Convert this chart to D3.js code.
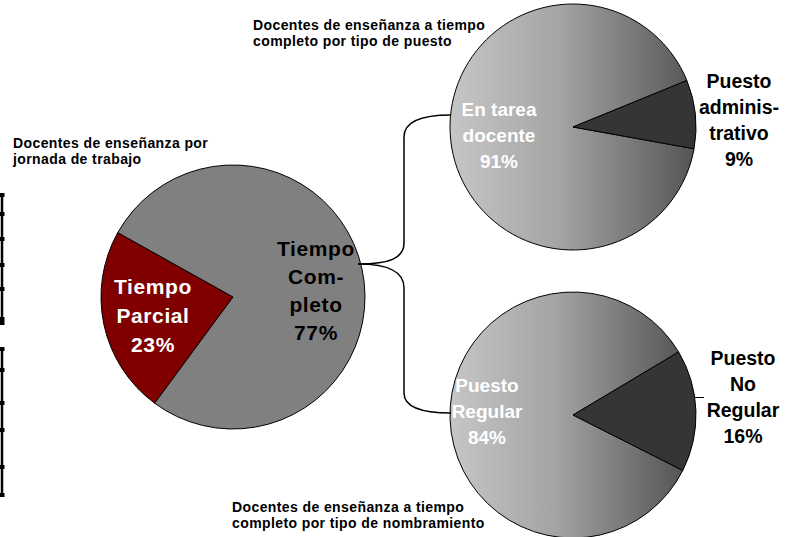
<!DOCTYPE html>
<html><head><meta charset="utf-8">
<script src="https://cdn.jsdelivr.net/npm/d3@7"></script>
<style>
body{margin:0;background:#fff;}
svg{display:block;font-family:Arial,"Liberation Sans",sans-serif;}
</style></head>
<body>
<svg id="c" width="797" height="537"></svg>
<script>
// ---- data ----
const jornadaCats = ["Tiempo Parcial", "Tiempo Completo"];
const jornadaVals = [23, 77];
const puestoCats = ["En tarea docente", "Puesto administrativo"];
const puestoVals = [91, 9];
const nombrCats = ["Puesto Regular", "Puesto No Regular"];
const nombrVals = [84, 16];

const jornadaLabels = [["Tiempo", "Parcial", "23%"], ["Tiempo", "Com-", "pleto", "77%"]];
const puestoLabels = [["En tarea", "docente", "91%"], ["Puesto", "adminis-", "trativo", "9%"]];
const nombrLabels = [["Puesto", "Regular", "84%"], ["Puesto", "No", "Regular", "16%"]];

const titles = [
  ["Docentes de enseñanza por", "jornada de trabajo"],
  ["Docentes de enseñanza a tiempo", "completo por tipo de puesto"],
  ["Docentes de enseñanza a tiempo", "completo por tipo de nombramiento"]
];

const svg = d3.select("#c");
const deg = Math.PI / 180;

// gradient for the detail pies
const defs = svg.append("defs");
function grad(id) {
  const g = defs.append("linearGradient").attr("id", id).attr("x1", "0%").attr("x2", "100%").attr("y1", "0").attr("y2", "0");
  g.append("stop").attr("offset", "0%").attr("stop-color", "#c6c6c6");
  g.append("stop").attr("offset", "45%").attr("stop-color", "#a4a4a4");
  g.append("stop").attr("offset", "100%").attr("stop-color", "#555555");
}
grad("g1"); grad("g2");

// decorative left border fragments
function border(y0, y1, ticks) {
  svg.append("line").attr("x1", 2).attr("x2", 2).attr("y1", y0).attr("y2", y1).attr("stroke", "#000").attr("stroke-width", 2.5);
  ticks.forEach(t => svg.append("rect").attr("x", 0).attr("y", t - 2).attr("width", 4.5).attr("height", 4).attr("fill", "#000"));
}
border(193, 325, [195, 214, 239, 265, 289, 319, 323]);
border(347, 497, [349, 370, 403, 430, 467, 495]);

function drawPie(cfg) {
  const pie = d3.pie().sort(null).value(d => d)
    .startAngle(cfg.start * deg).endAngle(cfg.start * deg + 2 * Math.PI);
  const arc = d3.arc().innerRadius(0).outerRadius(cfg.r);
  const g = svg.append("g").attr("transform", `translate(${cfg.cx},${cfg.cy})`);
  g.selectAll("path").data(pie(cfg.values)).join("path")
    .attr("d", arc)
    .attr("fill", (d, i) => cfg.colors[i])
    .attr("stroke", "#000").attr("stroke-width", 1);
  cfg.labels.forEach((lines, i) => {
    const L = cfg.labelPos[i];
    const t = svg.append("text").attr("text-anchor", "middle")
      .attr("font-size", L.fs).attr("font-weight", "bold").attr("fill", L.color)
      .attr("letter-spacing", L.ls || 0);
    lines.forEach((s, k) => t.append("tspan").attr("x", L.x).attr("y", L.y + k * L.lh).text(s));
  });
}

drawPie({cx: 233, cy: 297, r: 132, start: 216.4, values: jornadaVals,
  colors: ["#800000", "#808080"], labels: jornadaLabels,
  labelPos: [{x: 153, y: 294, lh: 29, fs: 21, color: "#fff", ls: 0.6},
             {x: 316, y: 256, lh: 28, fs: 21, color: "#000", ls: 0.6}]});

drawPie({cx: 573, cy: 127, r: 123, start: 100.2, values: puestoVals,
  colors: ["url(#g1)", "#353535"], labels: puestoLabels,
  labelPos: [{x: 499, y: 116, lh: 26, fs: 19, color: "#fff"},
             {x: 739, y: 88, lh: 26, fs: 19.5, color: "#000"}]});

drawPie({cx: 573, cy: 415, r: 123, start: 116.8, values: nombrVals,
  colors: ["url(#g2)", "#353535"], labels: nombrLabels,
  labelPos: [{x: 487, y: 392, lh: 26, fs: 19, color: "#fff"},
             {x: 743, y: 365, lh: 26, fs: 19.5, color: "#000"}]});

// leader tick for "Puesto No Regular"
svg.append("line").attr("x1", 695).attr("x2", 704).attr("y1", 397.5).attr("y2", 397.5).attr("stroke", "#000");

// bracket connectors
svg.append("path").attr("fill", "none").attr("stroke", "#000").attr("stroke-width", 1.5)
  .attr("d", "M358,264 C390,264 404,258 404,243 L404,137 C404,122 420,115 451,115");
svg.append("path").attr("fill", "none").attr("stroke", "#000").attr("stroke-width", 1.5)
  .attr("d", "M358,264 C390,264 404,272 404,288 L404,393 C404,406 420,413 451,413");

// titles
const titlePos = [{x: 13, y: 148}, {x: 253, y: 30}, {x: 232, y: 512}];
titles.forEach((lines, i) => {
  const t = svg.append("text").attr("font-size", 14).attr("font-weight", "bold").attr("fill", "#000")
    .attr("letter-spacing", 0.4);
  lines.forEach((s, k) => t.append("tspan").attr("x", titlePos[i].x).attr("y", titlePos[i].y + k * 15.5).text(s));
});
</script>
</body></html>
